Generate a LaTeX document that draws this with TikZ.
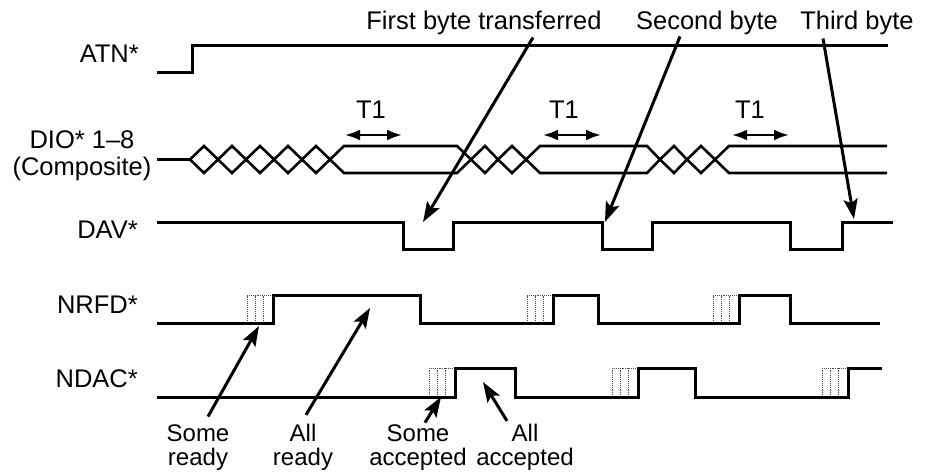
\documentclass[tikz,border=0pt]{standalone}
\usepackage{fontspec}
\setmainfont{Liberation Sans}
\usetikzlibrary{arrows.meta}

\tikzset{
  sig/.style={line width=3pt},
  bus/.style={line width=2.6pt},
  hatchline/.style={line width=0.9pt, densely dotted, black!70},
  lbl/.style={inner sep=0pt, font=\fontsize{25.5}{27}\selectfont},
  note/.style={inner sep=0pt, align=center, font=\fontsize{24}{23.5}\selectfont},
  ann/.style={line width=3pt, -{Stealth[length=20pt,width=14pt,inset=4pt]}},
  tone/.style={line width=2.5pt, {Latex[length=15pt,width=11pt]}-{Latex[length=15pt,width=11pt]}},
}
% dotted "settling" box in front of a rising edge
\newcommand{\hatchbox}[3]{%
  \foreach \dx in {0,8,16} \draw[hatchline] (#1+\dx,#2) -- (#1+\dx,#3);
  \draw[hatchline] (#1,#3) -- (#1+26,#3);}

\begin{document}
\begin{tikzpicture}[x=1pt,y=-1pt]
  \useasboundingbox (0,0) rectangle (938,476);

  % signal names
  \node[lbl, anchor=base east] (atn) at (139,63) {ATN*};
  \node[lbl, align=center, anchor=base] (dio) at (82,176) {DIO* 1–8\\(Composite)};
  \node[lbl, anchor=base east] (dav) at (138,238) {DAV*};
  \node[lbl, anchor=base east] (nrfd) at (138,313) {NRFD*};
  \node[lbl, anchor=base east] (ndac) at (138,387) {NDAC*};

  % ATN*
  \draw[sig] (157,73) -- (192,73) -- (192,46) -- (888,46);

  % DIO* bus
  \draw[bus] (157,159.5) -- (190,159.5);
  \draw[bus] (190,159.5) \foreach \x in {190,218,...,302} {-- (\x+14,146) -- (\x+28,159.5)}
    -- (344,146) -- (457,146) -- (471,159.5) -- (485,146) -- (498,159.5) -- (512,146)
    -- (526,159.5) -- (540,146) -- (647,146) -- (660,159.5) -- (674,146) -- (687,159.5)
    -- (701,146) -- (715,159.5) -- (729,146) -- (887,146);
  \draw[bus] (190,159.5) \foreach \x in {190,218,...,302} {-- (\x+14,173) -- (\x+28,159.5)}
    -- (344,173) -- (457,173) -- (471,159.5) -- (485,173) -- (498,159.5) -- (512,173)
    -- (526,159.5) -- (540,173) -- (647,173) -- (660,159.5) -- (674,173) -- (687,159.5)
    -- (701,173) -- (715,159.5) -- (729,173) -- (887,173);

  % T1 intervals
  \node[lbl, anchor=base] (tonea) at (371,119) {T1};
  \node[lbl, anchor=base] (toneb) at (564,119) {T1};
  \node[lbl, anchor=base] (tonec) at (750,119) {T1};
  \coordinate (tal) at (345,135); \coordinate (tar) at (402,135);
  \coordinate (tbl) at (543,135); \coordinate (tbr) at (601,135);
  \coordinate (tcl) at (732,135); \coordinate (tcr) at (789,135);
  \draw[tone] (tal) -- (tar);
  \draw[tone] (tbl) -- (tbr);
  \draw[tone] (tcl) -- (tcr);

  % DAV*
  \draw[sig] (157,223) -- (403,223) -- (403,249) -- (453,249) -- (453,223) -- (602,223)
    -- (602,249) -- (652,249) -- (652,223) -- (790,223) -- (790,249) -- (842,249)
    -- (842,223) -- (893,223);

  % NRFD*
  \hatchbox{247}{323}{295}
  \hatchbox{527}{323}{295}
  \hatchbox{713}{323}{295}
  \draw[sig] (157,323) -- (273,323) -- (273,295) -- (420,295) -- (420,323) -- (553,323)
    -- (553,295) -- (598,295) -- (598,323) -- (739,323) -- (739,295) -- (790,295)
    -- (790,323) -- (880,323);

  % NDAC*
  \hatchbox{429}{397}{368}
  \hatchbox{612}{397}{368}
  \hatchbox{822}{397}{368}
  \draw[sig] (157,397) -- (455,397) -- (455,368) -- (515,368) -- (515,397) -- (638,397)
    -- (638,368) -- (695,368) -- (695,397) -- (848,397) -- (848,368) -- (882,368);

  % byte markers
  \node[lbl, anchor=base] (first) at (484,30) {First byte transferred};
  \node[lbl, anchor=base] (second) at (707,30) {Second byte};
  \node[lbl, anchor=base] (third) at (857,30) {Third byte};
  \coordinate (firsttip) at (423,222);
  \coordinate (secondtip) at (605,222);
  \coordinate (thirdtip) at (854,219);
  \draw[ann] ([xshift=49pt,yshift=-2pt]first.south) -- (firsttip);
  \draw[ann] ([xshift=-27pt,yshift=-1pt]second.south) -- (secondtip);
  \draw[ann] ([xshift=-34pt,yshift=-3pt]third.south) -- (thirdtip);

  % handshake notes
  \node[note, anchor=base] (someready) at (198,465) {Some\\ready};
  \node[note, anchor=base] (allready) at (303,465) {All\\ready};
  \node[note, anchor=base] (someacc) at (418,465) {Some\\accepted};
  \node[note, anchor=base] (allacc) at (525,465) {All\\accepted};
  \coordinate (srtip) at (259,326);
  \coordinate (artip) at (370,308);
  \coordinate (satip) at (441,397);
  \coordinate (aatip) at (483,382);
  \draw[ann] ([xshift=10pt,yshift=8pt]someready.north) -- (srtip);
  \draw[ann] ([xshift=3pt,yshift=9pt]allready.north) -- (artip);
  \draw[ann] ([xshift=7pt,yshift=2pt]someacc.north) -- (satip);
  \draw[ann] ([xshift=-18pt,yshift=3pt]allacc.north) -- (aatip);
\end{tikzpicture}
\end{document}
